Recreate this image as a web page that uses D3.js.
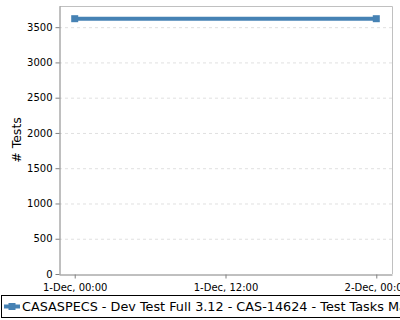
<html><head><meta charset="utf-8">
<style>
    body { margin: 0; background: white; font-family: "DejaVu Sans", sans-serif; }
    svg { display: block; }
</style>
</head>
<body>
<svg id="chart"></svg>
<script src="https://d3js.org/d3.v7.min.js"></script>
<script>
    // data
    let times = [new Date(2024, 11, 1, 0, 0), new Date(2024, 11, 2, 0, 0)]
    let tests = [3620, 3620]
    let yTicks = [0, 500, 1000, 1500, 2000, 2500, 3000, 3500]
    let xTicks = [new Date(2024, 11, 1, 0, 0), new Date(2024, 11, 1, 12, 0), new Date(2024, 11, 2, 0, 0)]
    let seriesName = "CASASPECS - Dev Test Full 3.12 - CAS-14624 - Test Tasks Master"

    let width = 400, height = 320
    let margin = {top: 6, left: 59, right: 8, bottom: 46}
    let bodyWidth = width - margin.left - margin.right
    let bodyHeight = height - margin.top - margin.bottom

    let svg = d3.select('#chart').attr('width', width).attr('height', height)

    let xScale = d3.scaleTime()
        .domain([new Date(2024, 10, 30, 22, 45), new Date(2024, 11, 2, 1, 15)])
        .range([0, bodyWidth])
    let yScale = d3.scaleLinear()
        .domain([0, 3800])
        .range([bodyHeight, 0])

    let body = svg.append('g')
        .attr('transform', `translate(${margin.left},${margin.top})`)

    // grid lines
    body.selectAll('.grid').data(yTicks.slice(1)).enter().append('line')
        .attr('x1', 0).attr('x2', bodyWidth)
        .attr('y1', d => yScale(d) + 0.5).attr('y2', d => yScale(d) + 0.5)
        .attr('stroke', '#e0e0e0')
        .attr('stroke-dasharray', '3,3')

    // frame (top and right light grey)
    body.append('path')
        .attr('d', `M0.5,0.5H${bodyWidth + 0.5}V${bodyHeight}`)
        .attr('fill', 'none')
        .attr('stroke', '#c0c0c0')

    let axisY = d3.axisLeft(yScale).tickValues(yTicks).tickSize(4).tickSizeOuter(0)
        .tickFormat(d3.format('d'))
    let gy = body.append('g').attr('transform', 'translate(0.5,0)').call(axisY)
    let axisX = d3.axisBottom(xScale).tickValues(xTicks).tickSize(4).tickSizeOuter(0)
        .tickFormat(d3.timeFormat('%-d-%b, %H:%M'))
    let gx = body.append('g').attr('transform', `translate(0,${bodyHeight + 0.5})`).call(axisX)

    for (let g of [gx, gy]) {
        g.selectAll('.domain').attr('stroke', '#808080')
        g.selectAll('.tick line').attr('stroke', '#808080')
        g.selectAll('text').attr('font-family', 'DejaVu Sans').attr('font-size', 10).attr('fill', '#000')
    }
    gx.selectAll('text').attr('dy', '0.95em')

    svg.append('text')
        .attr('transform', `translate(21,${margin.top + bodyHeight / 2}) rotate(-90)`)
        .attr('text-anchor', 'middle')
        .attr('font-size', 12.5)
        .text('# Tests')

    let points = times.map((t, i) => ({t: t, v: tests[i]}))
    let line = d3.line().x(d => xScale(d.t)).y(d => yScale(d.v))
    body.append('path').datum(points)
        .attr('d', line)
        .attr('fill', 'none')
        .attr('stroke', '#4682b4')
        .attr('stroke-width', 4)
    body.selectAll('.pt').data(points).enter().append('rect')
        .attr('x', d => xScale(d.t) - 3.5)
        .attr('y', d => yScale(d.v) - 3.5)
        .attr('width', 7).attr('height', 7)
        .attr('fill', '#4682b4')

    // legend
    let legend = svg.append('g')
    legend.append('rect')
        .attr('x', 1.5).attr('y', 295.5).attr('width', 420).attr('height', 22)
        .attr('fill', 'white').attr('stroke', '#000')
    legend.append('line')
        .attr('x1', 4).attr('x2', 20).attr('y1', 306.5).attr('y2', 306.5)
        .attr('stroke', '#4682b4').attr('stroke-width', 4)
    legend.append('rect')
        .attr('x', 8.5).attr('y', 303).attr('width', 7).attr('height', 7)
        .attr('fill', '#4682b4')
    legend.append('text')
        .attr('x', 22).attr('y', 311)
        .attr('font-size', 12.8)
        .text(seriesName)
</script>
</body></html>
